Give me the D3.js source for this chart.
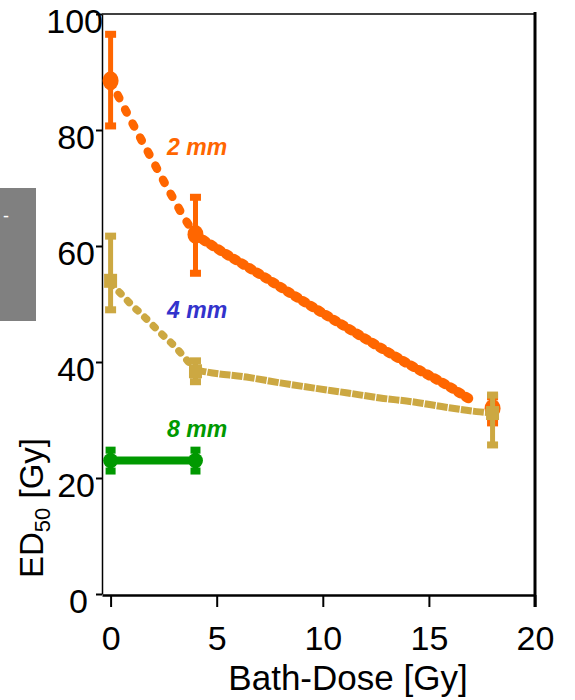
<!DOCTYPE html>
<html>
<head>
<meta charset="utf-8">
<script src="https://cdn.jsdelivr.net/npm/d3@7"></script>
<style>
  html, body { margin: 0; padding: 0; background: #fff; }
  svg { display: block; font-family: "Liberation Sans", Arial, Helvetica, sans-serif; }
</style>
</head>
<body>
<svg id="chart" width="575" height="700"></svg>
<script>
// ---------------- data ----------------
const xTicks = [0, 5, 10, 15, 20];
const yTicks = [0, 20, 40, 60, 80, 100];

// 2 mm (orange)
const dose2 = [0, 4, 18];
const ed2 = [88.5, 62.0, 32.0];
const ed2Lo = [80.7, 55.3, 29.5];
const ed2Hi = [96.5, 68.4, 34.0];
const fit2A = [[0, 88.5], [0.45, 85.2], [1.2, 80.0], [2.0, 74.6], [2.8, 69.2], [3.6, 64.1], [4, 61.9]];
const fit2B = [[4, 61.9], [5, 59.6], [7.4, 54.3], [8.8, 51.1], [11.1, 46.0], [12.7, 42.5], [14.3, 39.1], [15.8, 36.1], [17, 33.4]];

// 4 mm (tan)
const dose4 = [0, 4, 18];
const ed4 = [54.0, 38.4, 31.2];
const ed4Lo = [49.0, 36.6, 25.7];
const ed4Hi = [61.7, 40.2, 34.3];
const fit4A = [[0, 53.5], [0.45, 51.9], [1.0, 49.8], [1.5, 48.1], [2.3, 45.2], [3.1, 42.4], [3.6, 40.3], [4, 38.7]];
const fit4B = [[4, 38.7], [4.5, 38.3], [6.4, 37.4], [8, 36.4], [9.6, 35.5], [11.1, 34.7], [12.7, 33.8], [14.3, 33.1], [15.8, 32.2], [17.4, 31.4], [18, 31.2]];

// 8 mm (green)
const dose8 = [0, 4];
const ed8 = [23.0, 23.0];
const ed8Lo = [21.2, 21.2];
const ed8Hi = [24.8, 24.8];

// series labels
const seriesLabels = ["2 mm", "4 mm", "8 mm"];
const labelX = [2.66, 2.66, 2.66];
const labelY = [75.7, 47.6, 27.1];

// ---------------- drawing ----------------
const ORANGE = "#FF6600", TAN = "#CCA842", GREEN = "#009900", BLUE = "#3333CC";
const svg = d3.select("#chart");

const x = d3.scaleLinear().domain([-0.405, 20]).range([102, 535]);
const y = d3.scaleLinear().domain([0, 100]).range([594, 14]);

// gray box at left
svg.append("rect").attr("x", 0).attr("y", 188).attr("width", 36).attr("height", 133).attr("fill", "#808080");
svg.append("text").attr("x", 3).attr("y", 222).attr("fill", "#fff").attr("font-size", 18).text("-");

// frame
svg.append("line").attr("x1", 102).attr("x2", 535).attr("y1", 14).attr("y2", 14).attr("stroke", "#000").attr("stroke-width", 1.5);
svg.append("line").attr("x1", 535).attr("x2", 535).attr("y1", 12).attr("y2", 607).attr("stroke", "#000").attr("stroke-width", 3);

// axes
const xAxis = svg.append("g").attr("transform", "translate(0,595)")
  .call(d3.axisBottom(x).tickValues(xTicks).tickSize(12).tickSizeOuter(0).tickFormat(d3.format("d")));
xAxis.select(".domain").attr("stroke-width", 2.5);
xAxis.selectAll(".tick line").attr("stroke-width", 2);
xAxis.selectAll(".tick text").attr("y", 55).attr("dy", 0).attr("font-size", 34).attr("fill", "#000")
  .style("font-family", "'Liberation Sans', Arial, sans-serif");

const yAxis = svg.append("g").attr("transform", "translate(102,0)")
  .call(d3.axisLeft(y).tickValues(yTicks).tickSize(6).tickSizeOuter(0).tickFormat(d3.format("d")));
yAxis.select(".domain").attr("stroke-width", 1.5);
yAxis.selectAll(".tick line").attr("stroke-width", 2);
yAxis.selectAll(".tick text").attr("x", d => d === 100 ? 1 : (d === 0 ? -14 : -7)).attr("dy", 18)
  .attr("font-size", 34).attr("fill", "#000")
  .style("font-family", "'Liberation Sans', Arial, sans-serif");

// axis titles
svg.append("text").attr("x", 348).attr("y", 690).attr("text-anchor", "middle")
  .attr("font-size", 35).attr("fill", "#000").text("Bath-Dose [Gy]");

const yt = svg.append("text").attr("transform", "translate(43,578) rotate(-90)")
  .attr("font-size", 33).attr("fill", "#000");
yt.append("tspan").text("ED");
yt.append("tspan").attr("font-size", 22).attr("dy", 7).text("50");
yt.append("tspan").attr("dy", -7).text(" [Gy]");

// helpers
const line = d3.line().x(d => x(d[0])).y(d => y(d[1])).curve(d3.curveMonotoneX);

function fitPath(data, color, width, dash, cap) {
  svg.append("path").datum(data).attr("d", line).attr("fill", "none")
    .attr("stroke", color).attr("stroke-width", width)
    .attr("stroke-dasharray", dash).attr("stroke-linecap", cap);
}

function errBars(xs, lo, hi, color, capW) {
  const g = svg.append("g");
  xs.forEach((xv, i) => {
    g.append("line").attr("x1", x(xv)).attr("x2", x(xv)).attr("y1", y(lo[i])).attr("y2", y(hi[i]))
      .attr("stroke", color).attr("stroke-width", 5);
    [lo[i], hi[i]].forEach(v => {
      g.append("rect").attr("x", x(xv) - capW / 2).attr("y", y(v) - 3.5)
        .attr("width", capW).attr("height", 7).attr("fill", color);
    });
  });
}

// 2 mm series
fitPath(fit2A, ORANGE, 8.5, "3.5 12.5", "round");
fitPath(fit2B, ORANGE, 10, "3 6", "round");
errBars(dose2, ed2Lo, ed2Hi, ORANGE, 11);
svg.append("g").selectAll("ellipse").data(dose2).join("ellipse")
  .attr("cx", d => x(d)).attr("cy", (d, i) => y(ed2[i])).attr("rx", 8).attr("ry", 9.5).attr("fill", ORANGE);

// 4 mm series
fitPath(fit4A, TAN, 7.5, "2.5 9.5", "round");
fitPath(fit4B, TAN, 7, "11 1.2", "butt");
errBars(dose4, ed4Lo, ed4Hi, TAN, 11);
svg.append("g").selectAll("rect.m4").data(dose4).join("rect").attr("class", "m4")
  .attr("x", d => x(d) - 6.5).attr("y", (d, i) => y(ed4[i]) - 7).attr("width", 13).attr("height", 14).attr("fill", TAN);

// 8 mm series
svg.append("path").datum(dose8.map((d, i) => [d, ed8[i]])).attr("d", line)
  .attr("fill", "none").attr("stroke", GREEN).attr("stroke-width", 8);
errBars(dose8, ed8Lo, ed8Hi, GREEN, 10);
svg.append("g").selectAll("circle").data(dose8).join("circle")
  .attr("cx", d => x(d)).attr("cy", (d, i) => y(ed8[i])).attr("r", 7.5).attr("fill", GREEN);

// series labels
const labelColors = [ORANGE, BLUE, GREEN];
svg.append("g").selectAll("text").data(seriesLabels).join("text")
  .attr("x", (d, i) => x(labelX[i])).attr("y", (d, i) => y(labelY[i]))
  .attr("fill", (d, i) => labelColors[i])
  .attr("font-size", 23).attr("font-weight", "bold").attr("font-style", "italic")
  .text(d => d);
</script>
</body>
</html>
